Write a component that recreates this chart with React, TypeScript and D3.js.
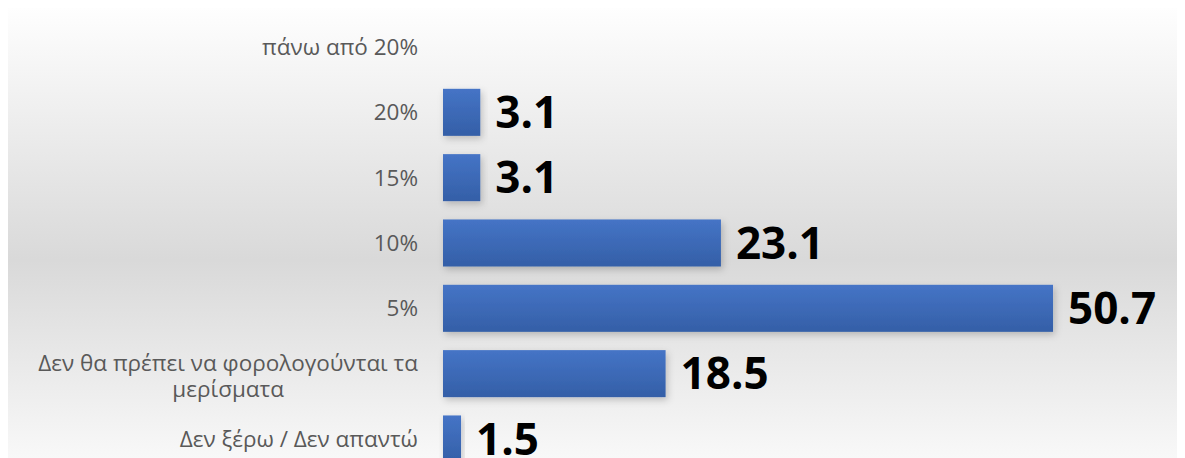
import React, { useEffect, useRef } from "react";
import * as d3 from "d3";

const categories: string[] = [
  "πάνω από 20%",
  "20%",
  "15%",
  "10%",
  "5%",
  "Δεν θα πρέπει να φορολογούνται τα μερίσματα",
  "Δεν ξέρω / Δεν απαντώ",
];
const values: (number | null)[] = [null, 3.1, 3.1, 23.1, 50.7, 18.5, 1.5];
const xDomainMax = 55;

const W = 1177;
const H = 450;

export default function App() {
  const ref = useRef<SVGSVGElement | null>(null);

  useEffect(() => {
    const svg = d3.select(ref.current);
    svg.selectAll("*").remove();

    const defs = svg.append("defs");
    const bg = defs
      .append("linearGradient")
      .attr("id", "bgGrad")
      .attr("x1", 0)
      .attr("y1", 0)
      .attr("x2", 0)
      .attr("y2", 1);
    bg.append("stop").attr("offset", "0%").attr("stop-color", "#fefefe");
    bg.append("stop").attr("offset", "56%").attr("stop-color", "#d9d9d9");
    bg.append("stop").attr("offset", "100%").attr("stop-color", "#f8f8f8");

    const bar = defs
      .append("linearGradient")
      .attr("id", "barGrad")
      .attr("x1", 0)
      .attr("y1", 0)
      .attr("x2", 0)
      .attr("y2", 1);
    bar.append("stop").attr("offset", "0%").attr("stop-color", "#4574c6");
    bar.append("stop").attr("offset", "100%").attr("stop-color", "#345fa7");

    const shadow = defs
      .append("filter")
      .attr("id", "shadow")
      .attr("x", "-20%")
      .attr("y", "-20%")
      .attr("width", "140%")
      .attr("height", "160%");
    shadow
      .append("feDropShadow")
      .attr("dx", 2)
      .attr("dy", 3)
      .attr("stdDeviation", 3.5)
      .attr("flood-color", "#000")
      .attr("flood-opacity", 0.2);

    svg
      .append("rect")
      .attr("x", 0)
      .attr("y", 0)
      .attr("width", W)
      .attr("height", H)
      .attr("fill", "url(#bgGrad)");

    const step = 65.33;
    const y = d3
      .scaleBand<string>()
      .domain(categories)
      .range([6.33, 6.33 + step * categories.length])
      .paddingInner(0.28)
      .paddingOuter(0.14);

    const x = d3.scaleLinear().domain([0, xDomainMax]).range([435, 435 + 12.032 * xDomainMax]);

    const data = categories.map((c, i) => ({ c, v: values[i] }));

    // bars
    svg
      .append("g")
      .selectAll("rect")
      .data(data.filter((d) => d.v !== null))
      .join("rect")
      .attr("x", x(0))
      .attr("y", (d) => y(d.c)!)
      .attr("width", (d) => x(d.v as number) - x(0))
      .attr("height", y.bandwidth())
      .attr("fill", "url(#barGrad)")
      .attr("filter", "url(#shadow)");

    // value labels
    svg
      .append("g")
      .selectAll("text")
      .data(data.filter((d) => d.v !== null))
      .join("text")
      .attr("x", (d) => x(d.v as number) + 15)
      .attr("y", (d) => y(d.c)! + y.bandwidth() / 2)
      .attr("dy", "0.36em")
      .attr("font-family", "'Open Sans', sans-serif")
      .attr("font-weight", 700)
      .attr("font-size", 44)
      .attr("fill", "#000")
      .text((d) => d3.format(".1f")(d.v as number));

    // category labels
    const labelRight = 410;
    const maxWidth = 402;
    const lineH = 26;
    const g = svg.append("g");
    data.forEach((d) => {
      const t = g
        .append("text")
        .attr("font-family", "'Open Sans', sans-serif")
        .attr("font-size", 22.5)
        .attr("fill", "#595959")
        .attr("text-anchor", "middle");
      const words = d.c.split(" ");
      const lines: string[] = [];
      let cur = "";
      const probe = t.append("tspan");
      words.forEach((w) => {
        const test = cur ? cur + " " + w : w;
        probe.text(test);
        if ((probe.node() as SVGTSpanElement).getComputedTextLength() > maxWidth && cur) {
          lines.push(cur);
          cur = w;
        } else {
          cur = test;
        }
      });
      lines.push(cur);
      probe.remove();
      const widths = lines.map((l) => {
        const s = t.append("tspan").text(l);
        const wv = (s.node() as SVGTSpanElement).getComputedTextLength();
        s.remove();
        return wv;
      });
      const widest = Math.max(...widths);
      const cx = labelRight - widest / 2;
      const cy = y(d.c)! + y.bandwidth() / 2;
      const shift = lines.length > 1 ? 2 : 0;
      lines.forEach((l, i) => {
        t.append("tspan")
          .attr("x", cx)
          .attr("y", cy + (i - (lines.length - 1) / 2) * lineH + shift)
          .attr("dy", "0.35em")
          .text(l);
      });
    });
  }, []);

  return <svg ref={ref} width={W} height={H} style={{ display: "block" }} />;
}
